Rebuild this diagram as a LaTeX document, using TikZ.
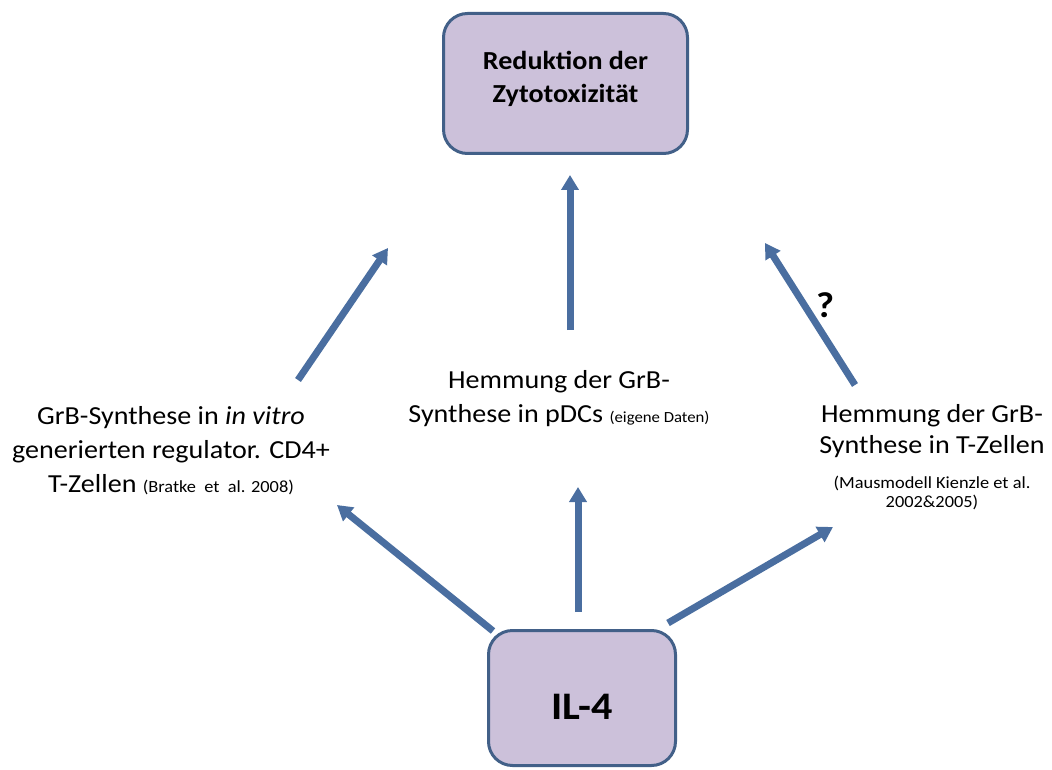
\documentclass[tikz,border=0pt]{standalone}
\usepackage{fontspec}
\setmainfont{Carlito}[FakeStretch=1.08]
\usepackage{xcolor}
\usepackage{tikz}
\usetikzlibrary{arrows.meta}
\definecolor{boxfill}{RGB}{204,193,218}
\definecolor{boxline}{RGB}{66,96,136}
\definecolor{signalblue}{RGB}{74,110,160}
\tikzset{
    >={Triangle[length=15pt, width=17pt]},
    effect/.style={draw=boxline, fill=boxfill, line width=3pt, rounded corners=24pt, align=center, inner sep=0pt},
    finding/.style={align=center, font=\fontsize{26}{34}\selectfont},
    signal/.style={->, signalblue, line width=7pt},
}
\newcommand{\quelle}[1]{{\fontsize{17}{20}\selectfont #1}}

\begin{document}
\begin{tikzpicture}[x=1pt, y=-1pt]
        \useasboundingbox (0,0) rectangle (1052,770);
        \node[effect, minimum width=244pt, minimum height=140pt, text depth=14pt, font=\bfseries\fontsize{26}{33}\selectfont] (zyto) at (565.5,83.5) {Reduktion der\\Zytotoxizität};
        \node[effect, minimum width=187pt, minimum height=135pt, text height=43pt, font=\bfseries\fontsize{39}{40}\selectfont] (il4) at (582,698) {IL-4};
        \node[finding] (treg) at (171,451) {GrB-Synthese in \textit{in vitro}\\generierten regulator. CD4+\\T-Zellen \quelle{(Bratke\ \ et\ \ al. 2008)}};
        \node[finding] (pdc) at (559,399) {Hemmung der GrB-\\Synthese in pDCs {\fontsize{15.5}{20}\selectfont (eigene Daten)}};
        \node[finding, font=\fontsize{26}{31}\selectfont] (tcell) at (932,457) {Hemmung der GrB-\\Synthese in T-Zellen\\[4pt]\quelle{(Mausmodell Kienzle et al.}\\[-12pt]\quelle{2002\&2005)}};
        \node[font=\bfseries\fontsize{36}{38}\selectfont] (frage) at (825,305) {?};
        % free arrow ends
        \coordinate (treg-in) at (337,505);
        \coordinate (pdc-in) at (578,487);
        \coordinate (tcell-in) at (833,527);
        \coordinate (treg-out) at (298,380);
        \coordinate (pdc-out) at (570,330);
        \coordinate (tcell-out) at (855,385);
        \coordinate (zyto-left) at (388,248);
        \coordinate (zyto-right) at (765,243);
        \draw[signal] (il4.north west) ++(6,2) -- (treg-in);
        \draw[signal] (578,612) -- (pdc-in);
        \draw[signal] (il4.north east) ++(-9,-6) -- (tcell-in);
        \draw[signal] (treg-out) -- (zyto-left);
        \draw[signal] (pdc-out) -- (570,175);
        \draw[signal] (tcell-out) -- (zyto-right);
\end{tikzpicture}
\end{document}
